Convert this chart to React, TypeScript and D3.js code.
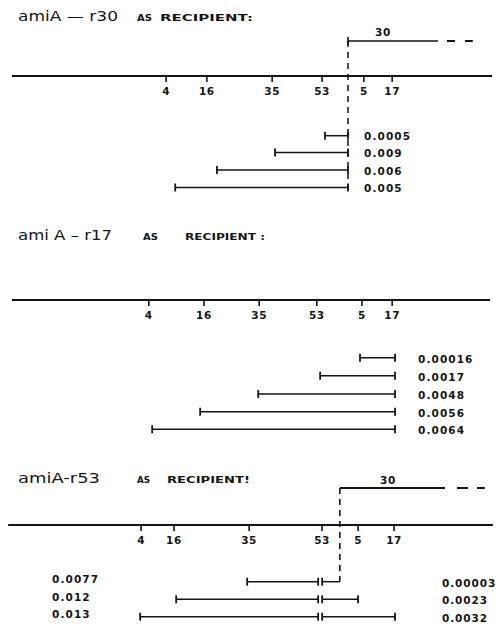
import React from "react";
import * as d3 from "d3";

// ---- data (map units, 0..100 across the page) ----
const markerNames = ["4", "16", "35", "53", "5", "17"];

// panel 1: amiA-r30 as recipient
const r30Markers = [32.1, 40.6, 54.2, 64.6, 73.3, 79.2];
const r30Break = 70.0;
const r30Solid = 88.75;
const r30Dash = 96.0;
const r30Left = [65.2, 54.8, 42.7, 34.0];
const r30Values = ["0.0005", "0.009", "0.006", "0.005"];

// panel 2: amiA-r17 as recipient
const r17Markers = [28.5, 40.0, 51.5, 63.5, 72.9, 79.2];
const r17Site = 79.8;
const r17Left = [72.5, 64.2, 51.3, 39.2, 29.2];
const r17Values = ["0.00016", "0.0017", "0.0048", "0.0056", "0.0064"];

// panel 3: amiA-r53 as recipient
const r53Markers = [26.9, 33.75, 49.4, 64.6, 72.1, 79.6];
const r53Break = 68.3;
const r53Solid = 90.2;
const r53Dash = 98.5;
const r53Site = 64.2;
const r53Left = [49.0, 34.2, 26.7];
const r53Right = [68.3, 72.1, 79.8];
const r53LeftValues = ["0.0077", "0.012", "0.013"];
const r53RightValues = ["0.00003", "0.0023", "0.0032"];

const x = d3.scaleLinear().domain([0, 100]).range([12, 492]);

const INK = "#151515";
const NUM_FONT = "'DejaVu Sans', sans-serif";

function Title({ y, name, nameLen, asX, asLen, recX, recLen, rec }: any) {
  return (
    <g fill={INK}>
      <text x={18} y={y} fontFamily="'DejaVu Sans', sans-serif" fontSize={13.5}
        textLength={nameLen} lengthAdjust="spacingAndGlyphs">{name}</text>
      <text x={asX} y={y} fontFamily={NUM_FONT} fontWeight="bold" fontSize={8.5}
        textLength={asLen} lengthAdjust="spacingAndGlyphs">AS</text>
      <text x={recX} y={y} fontFamily={NUM_FONT} fontWeight="bold" fontSize={8.5}
        textLength={recLen} lengthAdjust="spacingAndGlyphs">{rec}</text>
    </g>
  );
}

function Axis({ y, markers, from, to }: any) {
  return (
    <g>
      <line x1={x(from)} x2={x(to)} y1={y} y2={y} stroke={INK} strokeWidth={2} />
      {markers.map((m: number, i: number) => (
        <g key={i}>
          <line x1={x(m)} x2={x(m)} y1={y - 1} y2={y + 6} stroke={INK} strokeWidth={1.6} />
          <text x={x(m)} y={y + 19} textAnchor="middle" fontFamily={NUM_FONT}
            fontWeight="bold" fontSize={10.5} letterSpacing={0.6} fill={INK}>
            {markerNames[i]}
          </text>
        </g>
      ))}
    </g>
  );
}

function Interval({ a, b, y, tickA = true, tickB = true }: any) {
  return (
    <g stroke={INK} strokeWidth={1.5}>
      <line x1={a} x2={b} y1={y} y2={y} />
      {tickA && <line x1={a} x2={a} y1={y - 4} y2={y + 4} strokeWidth={1.8} />}
      {tickB && <line x1={b} x2={b} y1={y - 4} y2={y + 4} strokeWidth={1.8} />}
    </g>
  );
}

function Num({ x: tx, y, children }: any) {
  return (
    <text x={tx} y={y} fontFamily={NUM_FONT} fontWeight="bold" fontSize={10.5}
      letterSpacing={1.1} fill={INK}>{children}</text>
  );
}

export default function App() {
  // panel 1 layout
  const p1Axis = 76, p1Top = 41, p1Rows = [135.7, 152.5, 170, 187.5];
  // panel 2 layout
  const p2Axis = 300, p2Rows = [357.7, 375.7, 394, 411.7, 429.3];
  // panel 3 layout
  const p3Axis = 525, p3Top = 488, p3Rows = [581.7, 599.3, 616.7];

  return (
    <svg width={500} height={624} style={{ position: "absolute", left: 0, top: 0, background: "#fff" }}>
      <rect width={500} height={624} fill="#fff" />

      {/* ---------- Panel 1 ---------- */}
      <Title y={21} name="amiA — r30" nameLen={100} asX={137} asLen={15} recX={160} recLen={93} rec="RECIPIENT:" />
      <Axis y={p1Axis} markers={r30Markers} from={0} to={100} />
      <g stroke={INK}>
        <line x1={x(r30Break)} x2={x(r30Solid)} y1={p1Top} y2={p1Top} strokeWidth={1.6} />
        <line x1={x(r30Break)} x2={x(r30Break)} y1={p1Top - 4} y2={p1Top + 4} strokeWidth={1.6} />
        <line x1={x(r30Solid) + 9} x2={x(r30Dash)} y1={p1Top} y2={p1Top} strokeWidth={1.8} strokeDasharray="8 10" />
        <line x1={x(r30Break)} x2={x(r30Break)} y1={p1Top} y2={p1Rows[3] + 4} strokeWidth={1.5} strokeDasharray="6 5" />
      </g>
      <text x={x(r30Break) + 35} y={36} textAnchor="middle" fontFamily={NUM_FONT} fontWeight="bold"
        fontSize={10.5} letterSpacing={0.6} fill={INK}>30</text>
      {r30Left.map((l, i) => (
        <g key={i}>
          <Interval a={x(l)} b={x(r30Break)} y={p1Rows[i]} />
          <Num x={364} y={p1Rows[i] + 4.5}>{r30Values[i]}</Num>
        </g>
      ))}

      {/* ---------- Panel 2 ---------- */}
      <Title y={240} name="ami A – r17" nameLen={94} asX={143} asLen={15} recX={185} recLen={80} rec="RECIPIENT :" />
      <Axis y={p2Axis} markers={r17Markers} from={0} to={99.6} />
      {r17Left.map((l, i) => (
        <g key={i}>
          <Interval a={x(l)} b={x(r17Site)} y={p2Rows[i]} />
          <Num x={418} y={p2Rows[i] + 5}>{r17Values[i]}</Num>
        </g>
      ))}

      {/* ---------- Panel 3 ---------- */}
      <Title y={483} name="amiA-r53" nameLen={82} asX={137} asLen={13} recX={167} recLen={83} rec="RECIPIENT!" />
      <Axis y={p3Axis} markers={r53Markers} from={-0.8} to={100.2} />
      <g stroke={INK}>
        <line x1={x(r53Break)} x2={x(r53Solid)} y1={p3Top} y2={p3Top} strokeWidth={1.8} />
        <line x1={x(r53Solid) + 12} x2={x(r53Dash)} y1={p3Top} y2={p3Top} strokeWidth={1.8} strokeDasharray="11 9" />
        <line x1={x(r53Break)} x2={x(r53Break)} y1={p3Top} y2={p3Rows[0]} strokeWidth={1.6} strokeDasharray="6 5" />
      </g>
      <text x={388} y={484} textAnchor="middle" fontFamily={NUM_FONT} fontWeight="bold"
        fontSize={10.5} letterSpacing={0.6} fill={INK}>30</text>
      {r53Left.map((l, i) => (
        <g key={i}>
          <Interval a={x(l)} b={x(r53Site) - 2} y={p3Rows[i]} />
          <Interval a={x(r53Site) + 2} b={x(r53Right[i])} y={p3Rows[i]} tickB={i !== 0} />
          <Num x={52} y={p3Rows[i] + 1.5}>{r53LeftValues[i]}</Num>
          <text x={442} y={p3Rows[i] + 5} fontFamily={NUM_FONT} fontWeight="bold" fontSize={10.5}
            letterSpacing={0.9} fill={INK}>{r53RightValues[i]}</text>
        </g>
      ))}
    </svg>
  );
}
